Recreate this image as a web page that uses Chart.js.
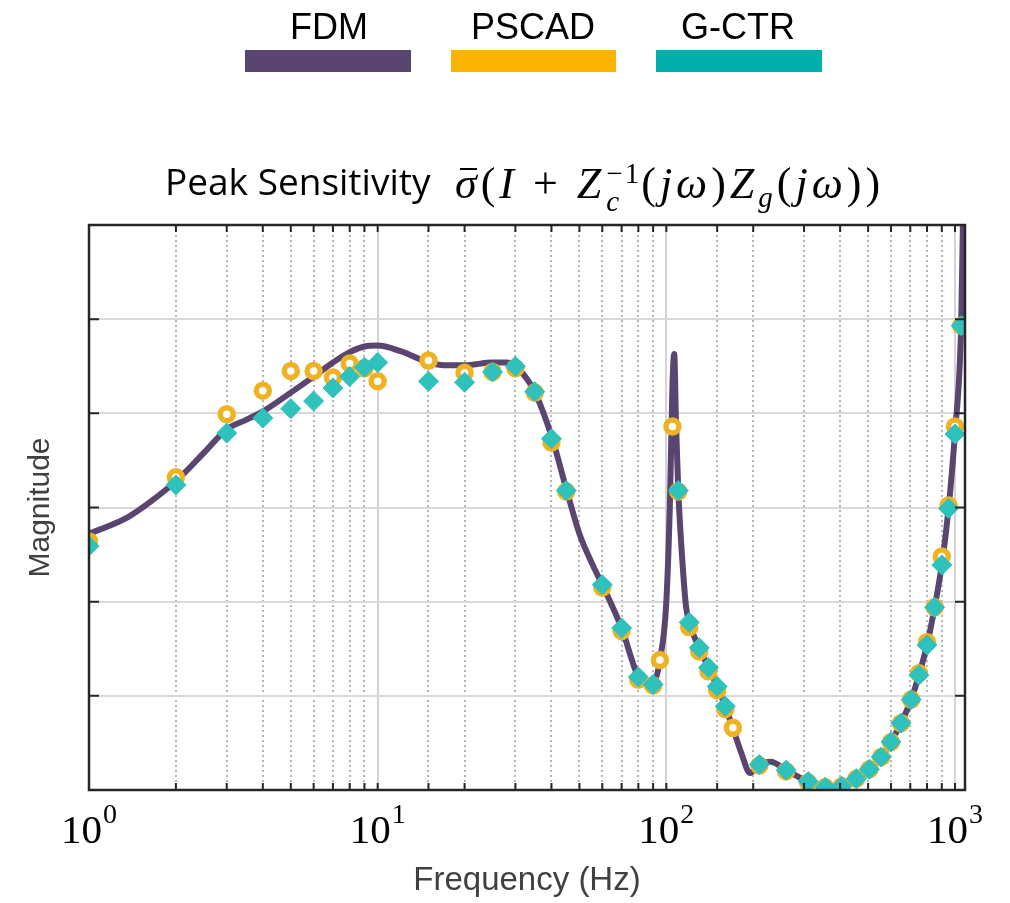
<!DOCTYPE html>
<html>
<head>
<meta charset="utf-8">
<script src="https://cdn.jsdelivr.net/npm/chart.js@4"></script>
<style>
    body { margin: 0; background: #fff; }
    #wrap { position: relative; width: 1010px; height: 903px; }
    canvas { position: absolute; left: 0; top: 0; }
    .lg-text { position: absolute; top: 9px; font: 36px "Liberation Sans", Arial, sans-serif; line-height: 1; color: #000; transform: translateX(-50%); white-space: nowrap; }
    .lg-bar { position: absolute; top: 50px; height: 22px; }
    #title { position: absolute; left: 165px; top: 162px; font: 37px "Open Sans", sans-serif; line-height: 1; color: #000; white-space: nowrap; }
    #math { position: absolute; left: 455px; top: 160px; font: 44px "Liberation Serif", serif; line-height: 1; color: #000; white-space: nowrap; letter-spacing: 4px; }
    #math .bar { position: relative; }
    #math .bar::after { content: ""; position: absolute; left: 5px; right: 4px; top: 9px; border-top: 2px solid #000; }
    #math .ss { display: inline-flex; flex-direction: column; font-size: 0.66em; line-height: 0.95; vertical-align: 15px; margin-left: 1px; letter-spacing: 2px; }
    #math sub { font-size: 0.66em; vertical-align: -9px; }
</style>
</head>
<body>
<div id="wrap">
    <canvas id="grafico" width="1010" height="903"></canvas>

    <div class="lg-text" style="left:329px">FDM</div>
    <div class="lg-bar" style="left:245px; width:166px; background:#5a4571"></div>
    <div class="lg-text" style="left:533px">PSCAD</div>
    <div class="lg-bar" style="left:451px; width:165px; background:#fbb400"></div>
    <div class="lg-text" style="left:738px">G-CTR</div>
    <div class="lg-bar" style="left:656px; width:166px; background:#00b0aa"></div>

    <div id="title">Peak Sensitivity</div>
    <div id="math"><i class="bar">σ</i>(<i>I</i> + <i>Z</i><span class="ss"><span>−1</span><span><i>c</i></span></span>(<i>jω</i>)<i>Z</i><sub><i>g</i></sub>(<i>jω</i>))</div>
</div>

<script>
// ===== DADOS =====
const fdmFreq = [1, 1.35, 1.63, 2, 2.5, 3, 3.5, 4, 5, 6, 7, 8, 9, 10, 12, 15, 17, 20, 25, 28, 30, 33, 35, 40, 45, 50, 55, 60, 70, 80, 86, 90, 95, 100, 103, 105, 106.5, 108, 110, 114, 117, 120, 130, 140, 150, 160, 170, 182, 195, 210, 230, 260, 310, 355, 405, 455, 505, 555, 600, 650, 705, 750, 800, 850, 900, 950, 1000, 1050, 1065, 1083];
const fdmMag = [2.72, 2.89, 3.06, 3.28, 3.58, 3.83, 3.93, 4.02, 4.22, 4.39, 4.54, 4.65, 4.71, 4.72, 4.66, 4.54, 4.51, 4.51, 4.54, 4.54, 4.50, 4.36, 4.23, 3.76, 3.20, 2.72, 2.42, 2.18, 1.72, 1.20, 1.12, 1.13, 1.38, 2.00, 3.10, 4.30, 4.63, 3.90, 3.18, 2.37, 1.95, 1.78, 1.51, 1.30, 1.10, 0.89, 0.66, 0.39, 0.18, 0.28, 0.30, 0.21, 0.09, 0.03, 0.05, 0.12, 0.22, 0.35, 0.51, 0.71, 0.96, 1.22, 1.54, 1.94, 2.39, 2.99, 3.80, 4.93, 6.00, 7.00];

const pscadFreq = [1, 2, 3, 4, 5, 6, 7, 8, 9, 10, 15, 20, 25, 30, 35, 40, 45, 60, 70, 80, 90, 95, 105, 110, 120, 130, 140, 150, 160, 170, 210, 260, 310, 355, 405, 455, 505, 555, 600, 650, 705, 750, 800, 850, 900, 950, 1000, 1050];
const pscadMag = [2.64, 3.32, 3.99, 4.24, 4.45, 4.45, 4.38, 4.53, 4.48, 4.34, 4.56, 4.43, 4.44, 4.48, 4.22, 3.69, 3.17, 2.15, 1.69, 1.17, 1.11, 1.38, 3.86, 3.17, 1.73, 1.47, 1.26, 1.06, 0.86, 0.66, 0.26, 0.20, 0.08, 0.03, 0.04, 0.12, 0.22, 0.35, 0.51, 0.71, 0.96, 1.24, 1.57, 1.94, 2.48, 3.02, 3.86, 4.93];

const gctrFreq = [1, 2, 3, 4, 5, 6, 7, 8, 9, 10, 15, 20, 25, 30, 35, 40, 45, 60, 70, 80, 90, 110, 120, 130, 140, 150, 160, 210, 260, 310, 355, 405, 455, 505, 555, 600, 650, 705, 750, 800, 850, 900, 950, 1000, 1050];
const gctrMag = [2.59, 3.24, 3.79, 3.95, 4.05, 4.13, 4.27, 4.39, 4.49, 4.54, 4.34, 4.33, 4.44, 4.50, 4.23, 3.73, 3.18, 2.18, 1.72, 1.20, 1.12, 3.18, 1.78, 1.51, 1.30, 1.10, 0.89, 0.27, 0.21, 0.09, 0.03, 0.04, 0.12, 0.22, 0.35, 0.51, 0.71, 0.96, 1.22, 1.54, 1.94, 2.39, 2.99, 3.78, 4.93];

// rótulos do eixo x (10^n)
const decadas = [1, 10, 100, 1000];
const expoentes = ["0", "1", "2", "3"];

const pares = (xs, ys) => xs.map((x, i) => ({ x: x, y: ys[i] }));
const ehDecada = v => Math.abs(Math.log10(v) - Math.round(Math.log10(v))) < 1e-9;

// moldura, marcas internas e rótulos 10^n
const moldura = {
    id: "moldura",
    afterDatasetsDraw(chart) {
        const { ctx, chartArea: a, scales: { x, y } } = chart;
        ctx.save();
        ctx.strokeStyle = "#262626";
        ctx.lineWidth = 2;
        ctx.beginPath();
        x.ticks.forEach(t => {
            const px = x.getPixelForValue(t.value);
            ctx.moveTo(px, a.top); ctx.lineTo(px, a.top + 7);
            ctx.moveTo(px, a.bottom); ctx.lineTo(px, a.bottom - 7);
        });
        y.ticks.forEach(t => {
            const py = y.getPixelForValue(t.value);
            ctx.moveTo(a.left, py); ctx.lineTo(a.left + 10, py);
            ctx.moveTo(a.right, py); ctx.lineTo(a.right - 10, py);
        });
        ctx.stroke();
        ctx.lineWidth = 2.5;
        ctx.strokeRect(a.left, a.top, a.right - a.left, a.bottom - a.top);

        ctx.fillStyle = "#000";
        ctx.textBaseline = "alphabetic";
        decadas.forEach((d, i) => {
            const px = x.getPixelForValue(d);
            ctx.font = '41px "Liberation Serif", serif';
            const w1 = ctx.measureText("10").width;
            ctx.font = '28px "Liberation Serif", serif';
            const w2 = ctx.measureText(expoentes[i]).width;
            const x0 = px - (w1 + w2 + 1) / 2;
            ctx.font = '41px "Liberation Serif", serif';
            ctx.fillText("10", x0, 843);
            ctx.font = '28px "Liberation Serif", serif';
            ctx.fillText(expoentes[i], x0 + w1 + 1, 823);
        });
        ctx.restore();
    }
};

document.addEventListener("DOMContentLoaded", () => {
    const canvas = document.getElementById("grafico");

    new Chart(canvas, {
        type: "scatter",
        data: {
            datasets: [
                {
                    label: "FDM",
                    data: pares(fdmFreq, fdmMag),
                    showLine: true,
                    borderColor: "#5a4571",
                    borderWidth: 6,
                    pointRadius: 0,
                    cubicInterpolationMode: "monotone",
                    borderCapStyle: "round",
                    borderJoinStyle: "round",
                    order: 3
                },
                {
                    label: "PSCAD",
                    data: pares(pscadFreq, pscadMag),
                    pointStyle: "circle",
                    pointRadius: 6.5,
                    pointBorderWidth: 5.5,
                    borderColor: "#efb222",
                    backgroundColor: "#ffffff",
                    order: 2
                },
                {
                    label: "G-CTR",
                    data: pares(gctrFreq, gctrMag),
                    pointStyle: "rectRot",
                    pointRadius: 10,
                    pointBorderWidth: 1,
                    borderColor: "#2fc1bc",
                    backgroundColor: "#2fc1bc",
                    order: 1
                }
            ]
        },
        options: {
            responsive: false,
            animation: false,
            devicePixelRatio: 1,
            layout: { padding: { top: 225, right: 45, left: 0, bottom: 0 } },
            plugins: {
                legend: { display: false },
                tooltip: { enabled: false }
            },
            scales: {
                x: {
                    type: "logarithmic",
                    min: 1,
                    max: 1083,
                    afterFit: s => { s.height = 113; },
                    ticks: { display: false, autoSkip: false },
                    grid: {
                        color: c => (c.tick && ehDecada(c.tick.value)) ? "#d4d4d4" : "#b5b5b5",
                        lineWidth: 2,
                        drawTicks: false
                    },
                    border: {
                        display: false,
                        dash: c => (c.tick && !ehDecada(c.tick.value)) ? [2, 3] : []
                    },
                    title: {
                        display: true,
                        text: "Frequency (Hz)",
                        color: "#404040",
                        font: { family: "Liberation Sans", size: 33 },
                        padding: { top: 0, bottom: 2 }
                    }
                },
                y: {
                    min: 0,
                    max: 6,
                    afterFit: s => { s.width = 89; },
                    ticks: { display: false, stepSize: 1 },
                    grid: { color: "#d9d9d9", lineWidth: 2, drawTicks: false },
                    border: { display: false },
                    title: {
                        display: true,
                        text: "Magnitude",
                        color: "#404040",
                        font: { family: "Liberation Sans", size: 30 },
                        padding: { top: 23, bottom: 0 }
                    }
                }
            }
        },
        plugins: [moldura]
    });
});
</script>
</body>
</html>
